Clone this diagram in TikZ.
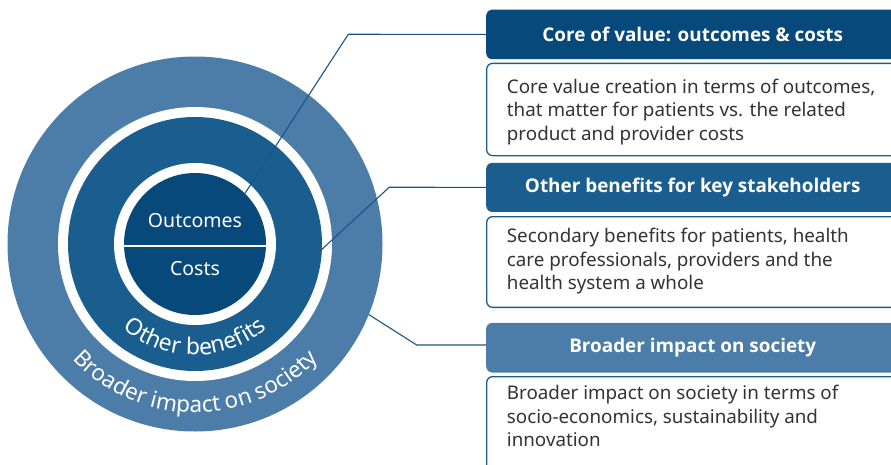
\documentclass[tikz,border=0pt]{standalone}
\usepackage{fontspec}
\setmainfont{Noto Sans}
\newfontfamily\hdrfont{Open Sans}
\usetikzlibrary{decorations.text}
\definecolor{outerc}{HTML}{4C7DA8}
\definecolor{midc}{HTML}{1A5E8F}
\definecolor{innerc}{HTML}{07497A}
\definecolor{linec}{HTML}{1A5586}
\definecolor{bodytext}{HTML}{333333}
\tikzset{
  hdr/.style={rounded corners=6pt, anchor=north west, minimum width=413pt, inner sep=0pt, text=white, font=\hdrfont\bfseries\fontsize{18.9}{22}\selectfont},
  bodybox/.style={draw=midc, line width=1.3pt, rounded corners=6pt, fill=white, anchor=north west, minimum width=413pt, inner sep=0pt},
  bodytxt/.style={anchor=base west, inner sep=0pt, text=bodytext, align=left, font=\fontsize{18.8}{23.5}\selectfont},
  circtxt/.style={text=white, inner sep=0pt, font=\fontsize{19.5}{22}\selectfont},
  conn/.style={draw=linec, line width=1.1pt}
}
\begin{document}
\begin{tikzpicture}[x=1pt,y=1pt]
\useasboundingbox (0,0) rectangle (891,-464);
\clip (0,0) rectangle (891,-464);
% circles
\coordinate (C) at (195,-244);
\fill[outerc] (C) circle (187.5);
\fill[white] (C) circle (137);
\fill[midc] (C) circle (127);
\fill[white] (C) circle (81);
\fill[innerc] (C) circle (71);
\draw[white, line width=2pt] (120,-246) -- (270,-246);
\node[circtxt] (outc) at (195,-221) {Outcomes};
\node[circtxt] (cost) at (195,-269) {Costs};
% curved labels
\path[decorate, decoration={text along path, text align=center,
  text={|\fontsize{23}{23}\selectfont\color{white}|Other benefits}}]
  (84,-244) arc[start angle=180, end angle=360, radius=111];
\path[decorate, decoration={text along path, text align=center,
  text={|\fontsize{22.5}{22.5}\selectfont\color{white}|Broader impact on society}}]
  (27,-244) arc[start angle=180, end angle=360, radius=168.5];
% headers and bodies
\node[hdr, fill=innerc, minimum height=49.5pt] (h1) at (486,-9.5) {Core of value: outcomes \& costs};
\node[bodybox, minimum height=92.3pt] (b1) at (486,-62.7) {};
\node[bodytxt] (t1) at (506.7,-140) {Core value creation in terms of outcomes,\\that matter for patients vs. the related\\product and provider costs};
\node[hdr, fill=midc, minimum height=49pt] (h2) at (486,-162.7) {Other benefits for key stakeholders};
\node[bodybox, minimum height=90.7pt] (b2) at (486,-216) {};
\node[bodytxt] (t2) at (506.7,-289.5) {Secondary benefits for patients, health\\care professionals, providers and the\\health system a whole};
\node[hdr, fill=outerc, minimum height=49.6pt] (h3) at (486,-322.7) {Broader impact on society};
\node[bodybox, minimum height=110pt] (b3) at (486,-376) {};
\node[bodytxt] (t3) at (506.7,-446.7) {Broader impact on society in terms of\\socio-economics, sustainability and\\innovation};
% connectors
\coordinate (k1) at (348.3,-34.25);
\coordinate (e1) at (244.9,-193.5);
\coordinate (k2) at (389.3,-187.2);
\coordinate (e2) at (321.9,-249.3);
\coordinate (k3) at (416.7,-345);
\coordinate (e3) at (368.7,-314.5);
\draw[conn] (h1.west) -- (k1) -- (e1);
\draw[conn] (h2.west) -- (k2) -- (e2);
\draw[conn] (h3.west |- k3) -- (k3) -- (e3);
\end{tikzpicture}
\end{document}
